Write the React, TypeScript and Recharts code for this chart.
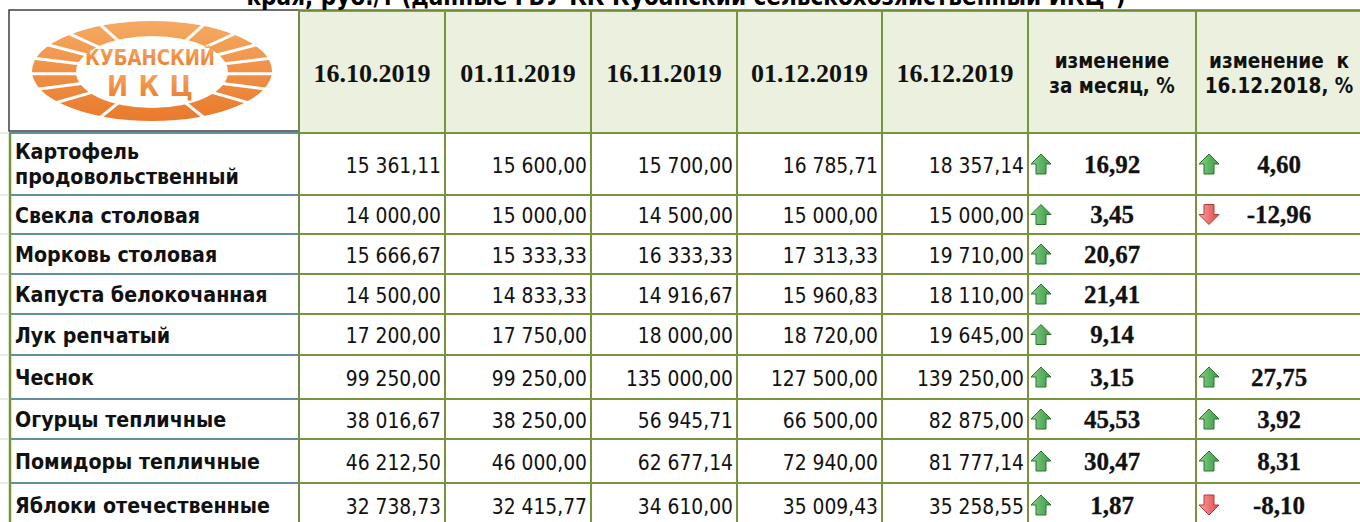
import React from 'react';
import { ScatterChart, Scatter, XAxis, YAxis, ReferenceLine, ReferenceArea } from 'recharts';

// ---------------- data ----------------
const titleText = 'края, руб./т (данные ГБУ КК Кубанский сельскохозяйственный ИКЦ")';
const logoText = ['КУБАНСКИЙ', 'ИКЦ'];
const dateLabels = ['16.10.2019', '01.11.2019', '16.11.2019', '01.12.2019', '16.12.2019'];
const changeHeaders = [
  ['изменение', 'за месяц, %'],
  ['изменение  к', '16.12.2018, %'],
];
const products = [
  'Картофель\nпродовольственный',
  'Свекла столовая',
  'Морковь столовая',
  'Капуста белокочанная',
  'Лук репчатый',
  'Чеснок',
  'Огурцы тепличные',
  'Помидоры тепличные',
  'Яблоки отечественные',
];
const price16Oct2019 = [15361.11, 14000.0, 15666.67, 14500.0, 17200.0, 99250.0, 38016.67, 46212.5, 32738.73];
const price01Nov2019 = [15600.0, 15000.0, 15333.33, 14833.33, 17750.0, 99250.0, 38250.0, 46000.0, 32415.77];
const price16Nov2019 = [15700.0, 14500.0, 16333.33, 14916.67, 18000.0, 135000.0, 56945.71, 62677.14, 34610.0];
const price01Dec2019 = [16785.71, 15000.0, 17313.33, 15960.83, 18720.0, 127500.0, 66500.0, 72940.0, 35009.43];
const price16Dec2019 = [18357.14, 15000.0, 19710.0, 18110.0, 19645.0, 139250.0, 82875.0, 81777.14, 35258.55];
const changeMonth = [16.92, 3.45, 20.67, 21.41, 9.14, 3.15, 45.53, 30.47, 1.87];
const changeYear: (number | null)[] = [4.6, -12.96, null, null, null, 27.75, 3.92, 8.31, -8.1];

const priceSeries = [price16Oct2019, price01Nov2019, price16Nov2019, price01Dec2019, price16Dec2019];

// ---------------- layout / style ----------------
const W = 1360;
const H = 522;
const colEdges = [9, 299, 445, 591, 737, 882, 1028, 1196, 1362];
const rowEdges = [10, 133, 195, 234, 274, 314, 355, 399, 439, 483, 527];
const OLIVE = '#77933C';
const BLUE_LINE = '#628EA2';
const HEADER_FILL = '#EBF1DE';
const SANS = "'DejaVu Sans Condensed', 'DejaVu Sans', sans-serif";
const SERIF = "'Liberation Serif', 'DejaVu Serif', serif";
const TEXT = '#111111';

const fmt = (v: number) => {
  const [i, d] = v.toFixed(2).split('.');
  return i.replace(/\B(?=(\d{3})+(?!\d))/g, ' ') + ',' + d;
};
const colCenter = (c: number) => (colEdges[c] + colEdges[c + 1]) / 2;
const rowCenter = (r: number) => (rowEdges[r + 1] + rowEdges[r + 2]) / 2;
const headerCenter = (rowEdges[0] + rowEdges[1]) / 2;

// derived point sets (positions go through the chart's scales)
const labelPoints = products.map((p, r) => ({ x: colEdges[0] + 6, y: rowCenter(r), lines: p.split('\n') }));
const pricePoints = priceSeries.map((vals, c) =>
  vals.map((v, r) => ({ x: colEdges[c + 2] - 4, y: rowCenter(r), text: fmt(v) }))
);
const datePoints = dateLabels.map((d, c) => ({ x: colCenter(c + 1), y: headerCenter, text: d }));
const changeHeaderPoints = changeHeaders.map((lines, k) => ({ x: colCenter(6 + k), y: headerCenter, lines }));
const monthValuePoints = changeMonth.map((v, r) => ({ x: colCenter(6), y: rowCenter(r), text: fmt(v) }));
const monthArrowPoints = changeMonth.map((v, r) => ({ x: colEdges[6] + 13, y: rowCenter(r), up: v >= 0 }));
const yearValuePoints = changeYear
  .map((v, r) => (v === null ? null : { x: colCenter(7), y: rowCenter(r), text: fmt(v) }))
  .filter(Boolean) as { x: number; y: number; text: string }[];
const yearArrowPoints = changeYear
  .map((v, r) => (v === null ? null : { x: colEdges[7] + 13, y: rowCenter(r), up: v >= 0 }))
  .filter(Boolean) as { x: number; y: number; up: boolean }[];
const logoPoint = [{ x: 152, y: 71 }];
const titlePoint = [{ x: 686, y: 5 }];

// ---------------- shapes ----------------
const LabelShape = (props: any) => {
  const { cx, cy, payload } = props;
  const lines: string[] = payload.lines;
  const ys = lines.length === 1 ? [cy + 8] : [cy - 5, cy + 20];
  return (
    <g>
      {lines.map((l, i) => (
        <text key={i} x={cx} y={ys[i]} fontFamily={SANS} fontWeight="bold" fontSize={21.2} fill={TEXT}>
          {l}
        </text>
      ))}
    </g>
  );
};

const PriceShape = (props: any) => {
  const { cx, cy, payload } = props;
  return (
    <text x={cx} y={cy + 8.5} textAnchor="end" fontFamily={SANS} fontSize={20.8} fill={TEXT}>
      {payload.text}
    </text>
  );
};

const DateShape = (props: any) => {
  const { cx, cy, payload } = props;
  return (
    <text x={cx} y={cy + 10} textAnchor="middle" fontFamily={SERIF} fontWeight="bold" fontSize={26} fill={TEXT}>
      {payload.text}
    </text>
  );
};

const ChangeHeaderShape = (props: any) => {
  const { cx, cy, payload } = props;
  const lines: string[] = payload.lines;
  return (
    <g>
      {lines.map((l, i) => (
        <text
          key={i}
          x={cx}
          y={cy - 3.5 + i * 25}
          textAnchor="middle"
          fontFamily={SANS}
          fontWeight="bold"
          fontSize={20.5}
          fill={TEXT}
          style={{ whiteSpace: 'pre' }}
        >
          {l}
        </text>
      ))}
    </g>
  );
};

const ChangeValueShape = (props: any) => {
  const { cx, cy, payload } = props;
  return (
    <text
      x={cx}
      y={cy + 8.5}
      textAnchor="middle"
      fontFamily={SERIF}
      fontWeight="bold"
      fontSize={25}
      fill={TEXT}
      stroke={TEXT}
      strokeWidth={0.3}
    >
      {payload.text}
    </text>
  );
};

const ArrowShape = (props: any) => {
  const { cx, cy, payload } = props;
  const s = payload.up ? 1 : -1;
  const pts = [
    [0, -10],
    [10, 0],
    [5, 0],
    [5, 10],
    [-5, 10],
    [-5, 0],
    [-10, 0],
  ]
    .map(([dx, dy]) => `${cx + dx},${cy + s * dy}`)
    .join(' ');
  return (
    <polygon
      points={pts}
      fill={payload.up ? 'url(#arrowUp)' : 'url(#arrowDown)'}
      stroke={payload.up ? '#2F6F33' : '#B23A3A'}
      strokeWidth={1}
      strokeLinejoin="miter"
    />
  );
};

const LogoShape = (props: any) => {
  const { cx, cy } = props;
  const rx = 120;
  const ry = 50;
  const irx = 76;
  const iry = 36;
  const icy = cy + 1;
  const ring =
    `M ${cx - rx} ${cy} a ${rx} ${ry} 0 1 0 ${2 * rx} 0 a ${rx} ${ry} 0 1 0 ${-2 * rx} 0 Z ` +
    `M ${cx - irx} ${icy} a ${irx} ${iry} 0 1 0 ${2 * irx} 0 a ${irx} ${iry} 0 1 0 ${-2 * irx} 0 Z`;
  const cuts = [64, 116, 244, 296, 134, 150, 166, 183, 200, 217, 46, 30, 14, -3, -20, -37];
  return (
    <g>
      <path d={ring} fill="url(#logoGrad)" fillRule="evenodd" />
      {cuts.map((t, i) => {
        const a = (t * Math.PI) / 180;
        return (
          <line
            key={i}
            x1={cx + (irx - 3) * Math.cos(a)}
            y1={icy - (iry - 3) * Math.sin(a)}
            x2={cx + (rx + 4) * Math.cos(a)}
            y2={cy - (ry + 4) * Math.sin(a)}
            stroke="#ffffff"
            strokeWidth={3}
          />
        );
      })}
      <text
        x={cx - 2}
        y={cy - 6}
        textAnchor="middle"
        fontFamily={SANS}
        fontWeight="bold"
        fontSize={22}
        textLength={130}
        lengthAdjust="spacingAndGlyphs"
        fill="url(#logoGrad)"
      >
        {logoText[0]}
      </text>
      <text
        x={cx - 2}
        y={cy + 25}
        textAnchor="middle"
        fontFamily={SANS}
        fontWeight="bold"
        fontSize={28}
        textLength={86}
        lengthAdjust="spacing"
        fill="url(#logoGrad)"
      >
        {logoText[1]}
      </text>
    </g>
  );
};

const TitleShape = (props: any) => {
  const { cx, cy } = props;
  return (
    <text x={cx} y={cy} textAnchor="middle" fontFamily={SANS} fontWeight="bold" fontSize={24} fill="#000">
      {titleText}
    </text>
  );
};

// ---------------- component ----------------
export default function App() {
  const vLines = colEdges.slice(1, 8);
  const hLines = rowEdges.slice(1, 10);
  return (
    <div style={{ position: 'absolute', left: 0, top: 0, width: W, height: H, background: '#fff' }}>
      <svg width={0} height={0} style={{ position: 'absolute' }}>
        <defs>
          <linearGradient id="arrowUp" x1="0" y1="0" x2="1" y2="0">
            <stop offset="0" stopColor="#8ED08E" />
            <stop offset="0.5" stopColor="#5DB563" />
            <stop offset="1" stopColor="#3E9A46" />
          </linearGradient>
          <linearGradient id="arrowDown" x1="0" y1="0" x2="1" y2="0">
            <stop offset="0" stopColor="#F7A8A8" />
            <stop offset="0.5" stopColor="#EC7373" />
            <stop offset="1" stopColor="#D95050" />
          </linearGradient>
          <linearGradient id="logoGrad" x1="0" y1="0" x2="0" y2="1">
            <stop offset="0" stopColor="#F5AA62" />
            <stop offset="1" stopColor="#E9792C" />
          </linearGradient>
        </defs>
      </svg>
      <ScatterChart width={W} height={H} margin={{ top: 0, right: 0, bottom: 0, left: 0 }}>
        <XAxis type="number" dataKey="x" domain={[0, W]} hide allowDataOverflow />
        <YAxis type="number" dataKey="y" domain={[0, H]} reversed hide allowDataOverflow />

        <ReferenceArea
          x1={colEdges[1]}
          x2={W}
          y1={rowEdges[0]}
          y2={rowEdges[1]}
          fill={HEADER_FILL}
          fillOpacity={1}
          stroke="none"
          ifOverflow="visible"
        />
        <ReferenceArea
          x1={colEdges[0]}
          x2={colEdges[1]}
          y1={rowEdges[0]}
          y2={rowEdges[1] - 2}
          fill="none"
          fillOpacity={0}
          stroke="#3F3F3F"
          strokeWidth={1.5}
          ifOverflow="visible"
        />

        {hLines.map((y, i) => (
          <ReferenceLine
            key={`g${i}`}
            segment={[
              { x: 0, y },
              { x: 8, y },
            ]}
            stroke="#D6D6D6"
            strokeWidth={1}
            ifOverflow="visible"
          />
        ))}
        {hLines.map((y, i) => (
          <ReferenceLine
            key={`hb${i}`}
            segment={[
              { x: colEdges[0], y },
              { x: colEdges[1], y },
            ]}
            stroke={BLUE_LINE}
            strokeWidth={2}
            ifOverflow="visible"
          />
        ))}
        {hLines.map((y, i) => (
          <ReferenceLine
            key={`ho${i}`}
            segment={[
              { x: colEdges[1], y },
              { x: W, y },
            ]}
            stroke={OLIVE}
            strokeWidth={i === 0 ? 2 : 1.8}
            ifOverflow="visible"
          />
        ))}
        <ReferenceLine
          segment={[
            { x: colEdges[1], y: rowEdges[0] + 0.5 },
            { x: W, y: rowEdges[0] + 0.5 },
          ]}
          stroke="#6A8638"
          strokeWidth={2.5}
          ifOverflow="visible"
        />
        <ReferenceLine
          segment={[
            { x: colEdges[0] + 1, y: rowEdges[1] },
            { x: colEdges[0] + 1, y: H },
          ]}
          stroke={OLIVE}
          strokeWidth={2.5}
          ifOverflow="visible"
        />
        {vLines.map((x, i) => (
          <ReferenceLine
            key={`v${i}`}
            segment={[
              { x, y: rowEdges[0] },
              { x, y: H },
            ]}
            stroke={i === 0 ? '#6F8A4A' : OLIVE}
            strokeWidth={2}
            ifOverflow="visible"
          />
        ))}

        <Scatter data={titlePoint} shape={TitleShape} isAnimationActive={false} />
        <Scatter data={logoPoint} shape={LogoShape} isAnimationActive={false} />
        <Scatter data={datePoints} shape={DateShape} isAnimationActive={false} />
        <Scatter data={changeHeaderPoints} shape={ChangeHeaderShape} isAnimationActive={false} />
        <Scatter data={labelPoints} shape={LabelShape} isAnimationActive={false} />
        {pricePoints.map((pts, c) => (
          <Scatter key={`p${c}`} data={pts} shape={PriceShape} isAnimationActive={false} />
        ))}
        <Scatter data={monthArrowPoints} shape={ArrowShape} isAnimationActive={false} />
        <Scatter data={monthValuePoints} shape={ChangeValueShape} isAnimationActive={false} />
        <Scatter data={yearArrowPoints} shape={ArrowShape} isAnimationActive={false} />
        <Scatter data={yearValuePoints} shape={ChangeValueShape} isAnimationActive={false} />
      </ScatterChart>
    </div>
  );
}
